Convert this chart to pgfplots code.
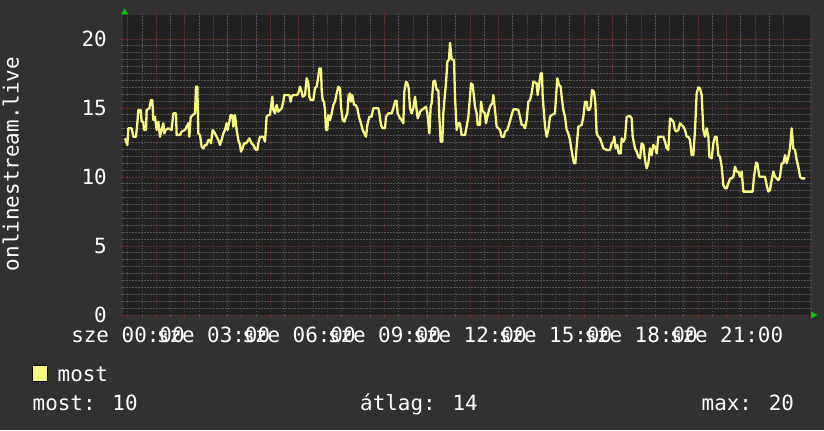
\documentclass[border=0pt]{standalone}
\usepackage{fontspec}
\setmainfont{DejaVu Sans Mono}
\usepackage{pgfplots}
\pgfplotsset{compat=1.18}
\definecolor{bgc}{RGB}{49,49,49}
\definecolor{plotbg}{RGB}{33,33,33}
\definecolor{minorg}{RGB}{84,84,84}
\definecolor{majorg}{RGB}{105,48,48}
\definecolor{lineyel}{RGB}{248,248,128}
\definecolor{arrowg}{RGB}{0,204,0}
\begin{document}
\begin{tikzpicture}[x=1bp,y=1bp,font=\fontsize{21}{24}\selectfont]
\fill[bgc] (0,0) rectangle (824,430);
\begin{axis}[
  at={(123bp,115bp)}, anchor=south west,
  scale only axis, width=687bp, height=300bp,
  xmin=-0.175, xmax=23.93, ymin=0, ymax=21.74,
  axis background/.style={fill=plotbg},
  axis line style={draw=none},
  /pgf/number format/assume math mode=true,
  xtick={0,1,...,23},
  xticklabels={sze 00:00,,,sze 03:00,,,sze 06:00,,,sze 09:00,,,sze 12:00,,,sze 15:00,,,sze 18:00,,,sze 21:00,,},
  ytick={0,5,10,15,20},
  minor x tick num=1,
  minor y tick num=9,
  grid=both,
  major grid style={color=majorg, line width=1bp, dash pattern=on 1.5bp off 1.5bp},
  minor grid style={color=minorg, line width=1bp, dash pattern=on 1.5bp off 1.5bp},
  tick align=outside,
  major tick length=3bp, minor tick length=2bp,
  every tick/.style={color=majorg, line width=1bp},
  every minor tick/.style={color=minorg, line width=1bp},
  xticklabel style={anchor=center, inner sep=0pt, yshift=-16.5bp, text=white},
  yticklabel style={anchor=east, inner sep=0pt, xshift=-13bp, text=white},
  tick label style={font=\fontsize{21}{24}\selectfont},
  clip=true,
]
\addplot[color=lineyel, line width=2.3bp, line join=round, mark=none] coordinates {
(-0.105,12.80) (-0.023,12.32) (0.012,13.53) (0.129,13.53) (0.187,12.92) (0.281,12.92)
(0.327,13.89) (0.363,14.86) (0.444,14.86) (0.480,14.01) (0.538,14.01) (0.561,13.41)
(0.632,13.41) (0.655,14.86) (0.749,14.98) (0.807,15.58) (0.854,15.58) (0.889,14.13)
(0.947,14.37) (1.006,13.41) (1.064,14.01) (1.123,12.92) (1.181,13.41) (1.240,13.89)
(1.275,13.16) (1.322,13.41) (1.415,13.53) (1.532,13.41) (1.591,14.61) (1.684,14.61)
(1.708,13.04) (1.825,13.04) (1.883,13.29) (2.000,13.41) (2.058,13.65) (2.117,13.89)
(2.152,12.92) (2.199,14.32) (2.269,14.49) (2.351,14.61) (2.386,16.55) (2.433,16.55)
(2.468,13.16) (2.526,13.04) (2.585,12.20) (2.643,12.08) (2.702,12.32) (2.760,12.32)
(2.819,12.68) (2.877,12.68) (2.912,12.44) (2.971,13.41) (3.053,13.16) (3.111,12.92)
(3.170,12.68) (3.228,12.32) (3.287,12.68) (3.345,13.16) (3.404,13.41) (3.462,13.89)
(3.497,13.41) (3.556,14.01) (3.602,14.49) (3.661,14.49) (3.696,13.65) (3.754,14.49)
(3.813,13.41) (3.871,12.68) (3.930,12.32) (3.965,11.84) (4.023,12.08) (4.070,12.44)
(4.140,12.44) (4.187,12.56) (4.257,12.80) (4.339,12.44) (4.398,12.32) (4.456,12.08)
(4.491,11.96) (4.538,11.96) (4.573,12.44) (4.632,12.92) (4.749,12.92) (4.807,12.56)
(4.865,14.37) (4.924,14.49) (4.982,14.49) (5.018,15.10) (5.064,15.82) (5.099,14.86)
(5.158,14.61) (5.216,15.22) (5.275,14.73) (5.333,14.86) (5.392,14.98) (5.450,15.46)
(5.485,15.94) (5.661,15.94) (5.708,15.46) (5.743,15.82) (5.801,15.94) (5.918,15.94)
(5.977,16.06) (6.035,16.55) (6.094,16.18) (6.129,15.82) (6.211,15.94) (6.269,17.15)
(6.327,16.79) (6.363,15.82) (6.409,15.58) (6.503,15.58) (6.561,16.43) (6.620,16.55)
(6.678,17.27) (6.713,17.87) (6.772,17.87) (6.795,16.30) (6.830,15.58) (6.877,15.46)
(6.912,14.86) (6.947,13.41) (6.994,13.41) (7.029,14.49) (7.088,14.13) (7.146,14.61)
(7.205,15.22) (7.263,15.46) (7.322,16.06) (7.380,16.55) (7.439,16.43) (7.474,15.10)
(7.532,14.13) (7.591,14.01) (7.649,14.37) (7.696,14.61) (7.743,15.94) (7.789,16.06)
(7.825,15.46) (7.871,15.94) (7.930,15.22) (7.988,15.22) (8.047,14.98) (8.117,14.25)
(8.175,13.89) (8.234,13.41) (8.292,13.16) (8.351,12.92) (8.398,13.77) (8.468,14.37)
(8.550,14.37) (8.608,14.98) (8.784,14.98) (8.819,14.61) (8.877,13.77) (8.936,13.53)
(9.018,13.53) (9.053,14.37) (9.135,14.61) (9.251,14.61) (9.310,14.98) (9.380,15.53)
(9.427,15.53) (9.462,14.61) (9.544,14.25) (9.602,14.13) (9.661,13.89) (9.696,16.18)
(9.754,16.91) (9.801,16.79) (9.848,16.43) (9.895,14.98) (9.953,14.61) (10.012,14.98)
(10.070,15.82) (10.129,14.86) (10.164,14.25) (10.211,14.49) (10.246,14.73) (10.304,14.86)
(10.386,14.98) (10.456,15.10) (10.503,14.61) (10.573,13.16) (10.620,15.10) (10.655,15.34)
(10.713,16.91) (10.772,16.98) (10.830,16.30) (10.889,16.30) (10.924,14.37) (10.971,12.56)
(11.029,12.56) (11.064,14.61) (11.123,16.06) (11.158,16.79) (11.205,18.36) (11.263,18.50)
(11.298,19.73) (11.357,18.53) (11.439,18.48) (11.474,15.82) (11.532,13.41) (11.591,13.89)
(11.649,13.89) (11.708,13.04) (11.825,13.04) (11.883,13.65) (11.942,14.37) (12.000,15.82)
(12.035,16.79) (12.094,16.67) (12.140,15.82) (12.175,15.10) (12.234,14.61) (12.269,13.77)
(12.351,13.77) (12.386,15.46) (12.433,14.86) (12.468,14.73) (12.526,14.61) (12.561,13.89)
(12.608,14.37) (12.667,14.86) (12.725,15.22) (12.784,15.34) (12.819,15.94) (12.877,14.86)
(12.936,13.65) (12.994,13.53) (13.053,13.41) (13.111,12.92) (13.193,12.92) (13.228,13.29)
(13.310,13.41) (13.380,13.89) (13.462,14.49) (13.520,14.90) (13.637,14.90) (13.696,14.86)
(13.754,14.37) (13.813,13.77) (13.871,13.77) (13.930,13.53) (13.988,14.13) (14.047,15.46)
(14.105,15.58) (14.164,16.06) (14.222,16.91) (14.339,16.79) (14.374,15.94) (14.433,16.79)
(14.480,17.51) (14.526,17.51) (14.550,15.82) (14.596,14.61) (14.632,13.65) (14.690,12.92)
(14.749,13.41) (14.807,14.37) (14.865,14.49) (14.982,14.61) (15.018,15.82) (15.064,17.15)
(15.123,16.67) (15.181,16.55) (15.216,15.82) (15.275,14.86) (15.333,14.37) (15.392,13.41)
(15.450,13.16) (15.509,12.68) (15.544,12.20) (15.602,11.47) (15.649,10.99) (15.696,10.99)
(15.743,12.20) (15.801,13.65) (15.918,13.77) (15.977,14.37) (16.035,15.46) (16.094,15.46)
(16.129,14.86) (16.187,14.86) (16.234,15.10) (16.281,16.30) (16.351,16.18) (16.398,15.34)
(16.444,13.16) (16.503,12.92) (16.561,12.80) (16.620,12.44) (16.678,12.08) (16.795,11.96)
(16.912,11.96) (16.971,12.44) (17.029,12.56) (17.064,12.92) (17.111,12.08) (17.170,12.32)
(17.216,11.71) (17.287,11.71) (17.322,12.80) (17.380,12.56) (17.439,12.80) (17.497,14.37)
(17.614,14.42) (17.673,14.25) (17.708,12.92) (17.789,12.08) (17.848,11.84) (17.906,11.47)
(17.965,11.35) (18.023,12.44) (18.082,12.32) (18.140,11.23) (18.199,10.63) (18.257,10.99)
(18.316,12.08) (18.374,11.59) (18.433,12.32) (18.491,12.20) (18.550,11.71) (18.608,12.92)
(18.784,12.92) (18.842,12.56) (18.901,12.08) (18.959,11.96) (19.018,14.25) (19.076,14.13)
(19.135,14.01) (19.193,13.41) (19.252,13.29) (19.310,13.41) (19.368,13.89) (19.427,13.77)
(19.485,13.65) (19.544,13.41) (19.602,12.92) (19.661,12.92) (19.719,12.68) (19.778,11.59)
(19.836,11.59) (19.895,13.41) (19.953,16.06) (20.012,16.50) (20.070,16.43) (20.129,15.94)
(20.187,13.41) (20.246,12.92) (20.304,13.53) (20.363,12.92) (20.398,11.47) (20.480,11.35)
(20.538,12.44) (20.596,12.92) (20.655,12.92) (20.713,11.59) (20.772,11.47) (20.830,10.75)
(20.889,9.42) (20.947,9.18) (21.006,9.18) (21.064,9.54) (21.123,9.90) (21.181,9.90)
(21.240,10.02) (21.298,10.75) (21.357,10.39) (21.415,10.39) (21.474,10.02) (21.532,10.39)
(21.591,8.94) (21.918,8.94) (21.965,10.02) (22.035,11.04) (22.082,10.99) (22.152,10.02)
(22.351,10.02) (22.409,9.42) (22.468,8.94) (22.526,9.06) (22.585,9.78) (22.643,10.39)
(22.702,10.02) (22.819,9.78) (22.877,10.02) (22.936,10.99) (22.994,10.99) (23.053,11.59)
(23.111,10.99) (23.170,11.47) (23.228,12.08) (23.287,13.53) (23.345,12.08) (23.404,11.96)
(23.462,11.23) (23.520,10.75) (23.579,10.02) (23.637,9.90) (23.754,9.90)
};
\end{axis}
% axis arrows
\fill[arrowg] (124.5,421.5) -- (121,415.5) -- (128,415.5) -- cycle;
\fill[arrowg] (817.5,115) -- (811,118.5) -- (811,111.5) -- cycle;
% y label
\node[rotate=90, anchor=base, text=white, inner sep=0pt] at (18.5,266) {onlinestream.live};
% legend
\filldraw[fill=lineyel, draw=black, line width=1bp] (32,48.5) rectangle (47,64.5);
\node[anchor=base west, text=white, inner sep=0pt] at (57.5,48.5) {most};
\node[anchor=base west, text=white, inner sep=0pt] at (32.5,20) {most: 10};
\node[anchor=base west, text=white, inner sep=0pt] at (360,20) {átlag: 14};
\node[anchor=base west, text=white, inner sep=0pt] at (701.5,20) {max: 20};
\end{tikzpicture}
\end{document}
